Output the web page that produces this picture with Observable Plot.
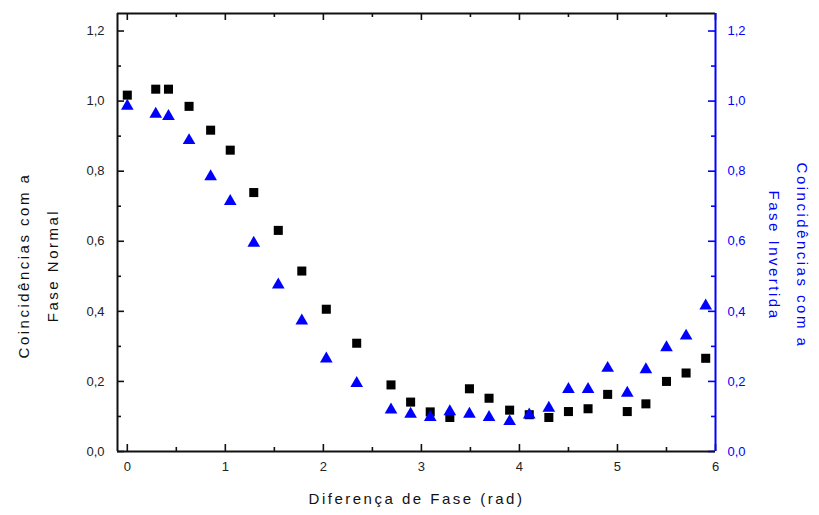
<!DOCTYPE html>
<html><head><meta charset="utf-8">
<script src="https://cdn.jsdelivr.net/npm/d3@7"></script>
<script src="https://cdn.jsdelivr.net/npm/@observablehq/plot@0.6"></script>
<style>body{margin:0;background:#fff}</style>
</head><body><div id="chart"></div>
<script>
const phase = [0, 0.29, 0.42, 0.63, 0.85, 1.05, 1.29, 1.54, 1.78, 2.03, 2.34, 2.69, 2.89, 3.09, 3.29, 3.49, 3.69, 3.9, 4.1, 4.3, 4.5, 4.7, 4.9, 5.1, 5.29, 5.5, 5.7, 5.9];
const normal = [1.017, 1.034, 1.034, 0.985, 0.917, 0.860, 0.739, 0.631, 0.515, 0.406, 0.309, 0.190, 0.141, 0.113, 0.097, 0.179, 0.152, 0.118, 0.105, 0.097, 0.114, 0.122, 0.163, 0.114, 0.136, 0.200, 0.224, 0.266];
const inverted = [0.990, 0.967, 0.961, 0.892, 0.789, 0.718, 0.599, 0.480, 0.377, 0.269, 0.199, 0.123, 0.111, 0.102, 0.118, 0.111, 0.102, 0.090, 0.109, 0.128, 0.182, 0.182, 0.242, 0.171, 0.238, 0.301, 0.334, 0.420];
const xTicks = [0, 1, 2, 3, 4, 5, 6];
const xMinor = [0.5, 1.5, 2.5, 3.5, 4.5, 5.5];
const yTicks = [0, 0.2, 0.4, 0.6, 0.8, 1.0, 1.2];
const yMinor = [0.1, 0.3, 0.5, 0.7, 0.9, 1.1];
const xTitle = "Diferença de Fase (rad)";
const leftTitle = "Coincidências com a\nFase Normal";
const rightTitle = "Coincidências com a\nFase Invertida";

const rows = phase.map((x, i) => ({x, normal: normal[i], inverted: inverted[i]}));
const fmt = d => d.toFixed(1).replace(".", ",");
const BLUE = "#0000ff";
const SW = 1.6;
const MAJ = 7, MIN = 4;
const W = 819, H = 515, ML = 117, MR = 104, MT = 13, MB = 64;
const FW = W - ML - MR, FH = H - MT - MB;

// inward-pointing ticks drawn as short tick marks hugging each frame edge
const ticksBottom = (v, len) => Plot.tickX(v, {x: d => d, insetTop: FH - len, stroke: "#111", strokeWidth: SW});
const ticksTop = (v, len) => Plot.tickX(v, {x: d => d, insetBottom: FH - len, stroke: "#111", strokeWidth: SW});
const ticksLeft = (v, len) => Plot.tickY(v, {y: d => d, insetRight: FW - len, stroke: "#111", strokeWidth: SW});
const ticksRight = (v, len) => Plot.tickY(v, {y: d => d, insetLeft: FW - len, stroke: BLUE, strokeWidth: SW});

const chart = Plot.plot({
  width: W, height: H, marginLeft: ML, marginRight: MR, marginTop: MT, marginBottom: MB,
  style: {fontFamily: "'Liberation Sans', Arial, sans-serif", fontSize: "13px", background: "#fff", color: "#222"},
  x: {domain: [-0.1, 6]},
  y: {domain: [0, 1.25]},
  marks: [
    ticksBottom(xMinor, MIN), ticksTop(xMinor, MIN), ticksLeft(yMinor, MIN), ticksRight(yMinor, MIN),
    ticksBottom(xTicks, MAJ), ticksTop(xTicks, MAJ), ticksLeft(yTicks, MAJ), ticksRight(yTicks, MAJ),
    // tick labels
    Plot.axisX(xTicks, {anchor: "bottom", label: null, tickSize: 0, tickPadding: 10, tickFormat: d => String(d), fill: "#222"}),
    Plot.axisY(yTicks, {anchor: "left", label: null, tickSize: 0, tickPadding: 13, tickFormat: fmt, fill: "#222"}),
    Plot.axisY(yTicks, {anchor: "right", label: null, tickSize: 0, tickPadding: 12, tickFormat: fmt, color: BLUE}),
    // frame
    Plot.ruleY([0], {stroke: "#111", strokeWidth: 2}),
    Plot.ruleY([1.25], {stroke: "#111", strokeWidth: 2}),
    Plot.ruleX([-0.1], {stroke: "#111", strokeWidth: 2}),
    Plot.ruleX([6], {stroke: BLUE, strokeWidth: 2}),
    // data
    Plot.dot(rows, {x: "x", y: "normal", symbol: "square", r: 5.1, fill: "#000", stroke: "none"}),
    Plot.dot(rows, {x: "x", y: "inverted", symbol: "triangle", r: 4.7, fill: BLUE, stroke: "none", dy: 1.5}),
    // titles
    Plot.text([xTitle], {frameAnchor: "bottom", dy: 52, fontSize: 15, fill: "#111"}),
    Plot.text([leftTitle], {frameAnchor: "left", textAnchor: "middle", dx: -83, dy: 33, rotate: -90, fontSize: 15, lineHeight: 1.87, fill: "#111"}),
    Plot.text([rightTitle], {frameAnchor: "right", textAnchor: "middle", dx: 76, dy: 23, rotate: 90, fontSize: 15, lineHeight: 1.87, fill: BLUE})
  ]
});
document.getElementById("chart").append(chart);
// spaced lettering of the original's axis titles
chart.querySelectorAll("text").forEach(t => {
  const s = t.textContent;
  if (s.includes("Diferença") || s.includes("Coincid") || s.includes("Fase")) t.setAttribute("letter-spacing", "2.5");
});
</script>
</body></html>
